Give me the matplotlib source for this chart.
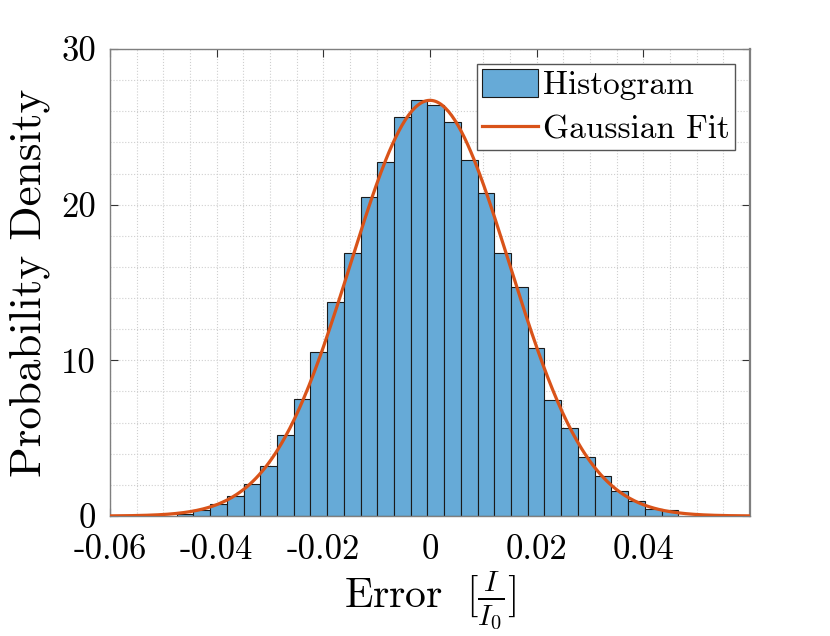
import numpy as np
import matplotlib
matplotlib.use('Agg')
import matplotlib.pyplot as plt
from matplotlib.ticker import MultipleLocator

plt.rcParams['font.family'] = 'serif'
plt.rcParams['font.serif'] = ['cmr10']
plt.rcParams['mathtext.fontset'] = 'cm'
plt.rcParams['axes.unicode_minus'] = False

# histogram (probability density per bin)
bin_first_edge = -0.0475
bin_last_edge = 0.04655
density = [0.13, 0.38, 0.75, 1.28, 2.03, 3.2, 5.23, 7.52, 10.51, 13.76,
           16.9, 20.47, 22.73, 25.62, 26.73, 26.39, 25.28, 22.84, 20.77, 16.92,
           14.72, 10.81, 7.44, 5.64, 3.82, 2.6, 1.62, 0.96, 0.47, 0.4]

# gaussian fit parameters
fit_amp = 26.7
fit_mu = 0.0
fit_sigma = 0.0149

xticks = [-0.06, -0.04, -0.02, 0, 0.02, 0.04]
xticklabels = ['-0.06', '-0.04', '-0.02', '0', '0.02', '0.04']
yticks = [0, 10, 20, 30]
yticklabels = ['0', '10', '20', '30']

edges = np.linspace(bin_first_edge, bin_last_edge, len(density) + 1)
xfit = np.linspace(-0.06, 0.06, 400)
yfit = fit_amp * np.exp(-0.5 * ((xfit - fit_mu) / fit_sigma) ** 2)

fig = plt.figure(figsize=(8.3, 6.36), dpi=100)
ax = fig.add_axes([0.1325, 0.1887, 0.7711, 0.7343])

bars = ax.bar(edges[:-1], density, width=np.diff(edges), align='edge',
              color='#66aad7', edgecolor='#1a1a1a', linewidth=0.8, label='Histogram', zorder=2)
line, = ax.plot(xfit, yfit, color='#d95319', linewidth=2.3, label='Gaussian Fit', zorder=3)

ax.set_xlim(-0.06, 0.06)
ax.set_ylim(0, 30)
ax.set_xticks(xticks)
ax.set_xticklabels(xticklabels)
ax.set_yticks(yticks)
ax.set_yticklabels(yticklabels)
ax.xaxis.set_minor_locator(MultipleLocator(0.005))
ax.yaxis.set_minor_locator(MultipleLocator(2))

ax.tick_params(which='major', direction='in', length=6, width=0.8, color='#333333',
               top=True, right=True, labelsize=25)
ax.tick_params(axis='y', pad=10)
ax.tick_params(axis='x', pad=13)
ax.tick_params(which='minor', length=0, top=True, right=True)
ax.grid(which='both', linestyle=':', color='#cfcfcf', linewidth=0.8, zorder=0)
ax.set_axisbelow(True)

for s in ax.spines.values():
    s.set_color('#7f7f7f')
    s.set_linewidth(1.0)
ax.spines['right'].set_linewidth(1.6)

ax.set_xlabel(r'Error $\;[\frac{I}{I_0}]$', fontsize=30, labelpad=2)
ax.set_ylabel('Probability Density', fontsize=32.5, labelpad=8)

leg = ax.legend([bars, line], ['Histogram', 'Gaussian Fit'], loc='upper right',
                fontsize=24, fancybox=False, framealpha=1, edgecolor='#555555',
                borderaxespad=0.45, handlelength=1.7, handleheight=0.9,
                handletextpad=0.15, borderpad=0.15, labelspacing=0.4)
leg.get_frame().set_linewidth(1.0)

fig.savefig('out.png', dpi=100)
